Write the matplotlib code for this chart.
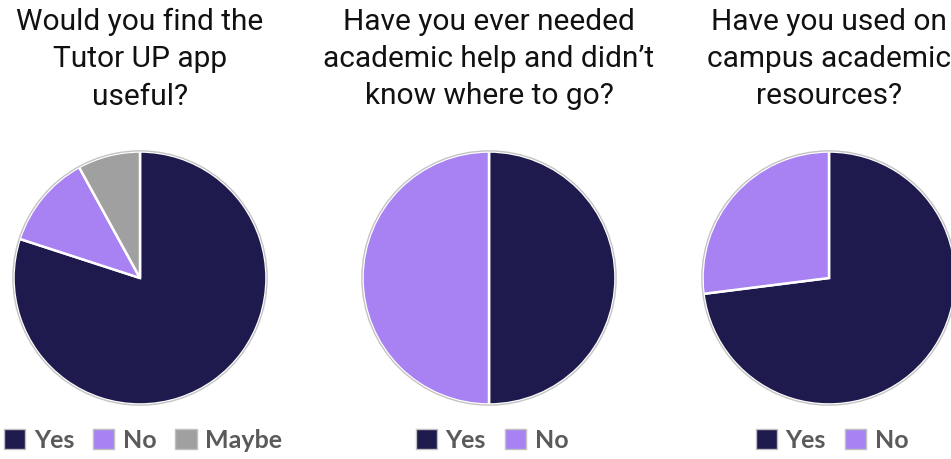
import matplotlib.pyplot as plt
from matplotlib.patches import Patch, Circle

# survey answers (percent of responses)
q1_labels = ["Yes", "No", "Maybe"]
q1_values = [80, 12, 8]
q2_labels = ["Yes", "No"]
q2_values = [50, 50]
q3_labels = ["Yes", "No"]
q3_values = [73, 27]

titles = [
    "Would you find the\nTutor UP app\nuseful?",
    "Have you ever needed\nacademic help and didn\u2019t\nknow where to go?",
    "Have you used on\ncampus academic\nresources?",
]

colors = {"Yes": "#1e1a4e", "No": "#a881f2", "Maybe": "#a0a0a0"}

W, H = 951, 460
fig = plt.figure(figsize=(W / 100, H / 100), dpi=100)
fig.patch.set_facecolor("white")

centers_x = [140, 489, 829]
center_y = 279
radius = 129

questions = [(q1_labels, q1_values), (q2_labels, q2_values), (q3_labels, q3_values)]

for cx, title, (labels, values) in zip(centers_x, titles, questions):
    ax = fig.add_axes([(cx - radius) / W, (H - center_y - radius) / H,
                       2 * radius / W, 2 * radius / H])
    ax.pie(values, colors=[colors[l] for l in labels], startangle=90,
           counterclock=False, radius=1.0,
           wedgeprops=dict(edgecolor="white", linewidth=1.8))
    ax.add_patch(Circle((0, 0), 1.005, fill=False, edgecolor="#c4c4c4", linewidth=1.0))
    ax.set_xlim(-1.02, 1.02)
    ax.set_ylim(-1.02, 1.02)
    ax.set_aspect("equal")
    ax.axis("off")

    fig.text(cx / W, 1 - 8 / H, title, ha="center", va="top",
             fontsize=21.5, family="Roboto", color="#111111", linespacing=1.42)

    handles = [Patch(facecolor=colors[l], edgecolor="#c0c0c0", linewidth=1.0)
               for l in labels]
    fig.legend(handles, labels, loc="center",
               bbox_to_anchor=((cx + 3) / W, 1 - 441 / H),
               ncol=len(labels), frameon=False, handlelength=0.85, handleheight=0.85,
               handletextpad=0.35, columnspacing=0.75,
               prop={"family": "Lato", "size": 18, "weight": "bold"},
               labelcolor="#5a5a5a")

fig.savefig("out.png", dpi=100)
